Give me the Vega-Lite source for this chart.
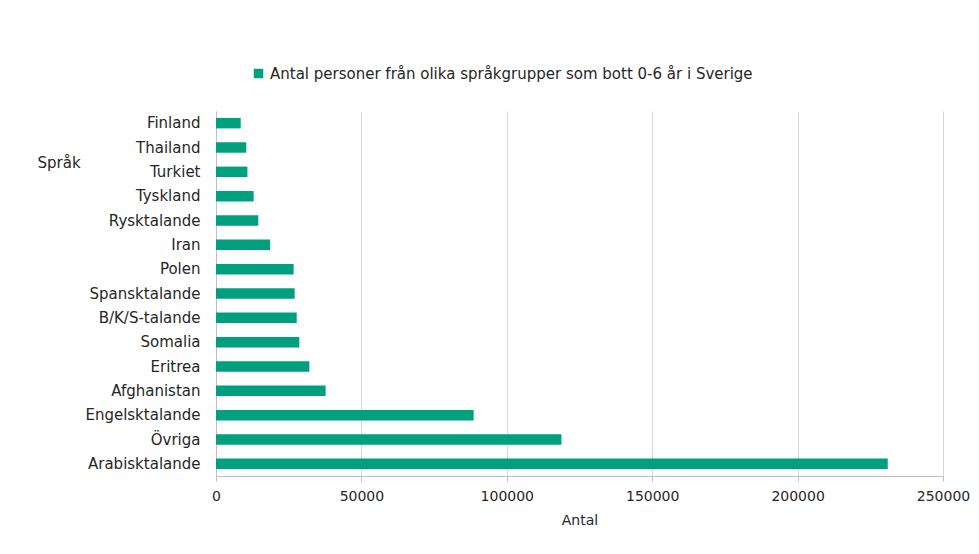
{
  "$schema": "https://vega.github.io/schema/vega-lite/v6.json",
  "width": 727,
  "height": 365,
  "autosize": {"type": "none"},
  "padding": {"left": 216, "top": 111, "right": 36, "bottom": 78},
  "background": "white",
  "data": {
    "values": [
      {"sprak": "Finland", "antal": 8500, "serie": "Antal personer från olika språkgrupper som bott 0-6 år i Sverige"},
      {"sprak": "Thailand", "antal": 10400, "serie": "Antal personer från olika språkgrupper som bott 0-6 år i Sverige"},
      {"sprak": "Turkiet", "antal": 10800, "serie": "Antal personer från olika språkgrupper som bott 0-6 år i Sverige"},
      {"sprak": "Tyskland", "antal": 12950, "serie": "Antal personer från olika språkgrupper som bott 0-6 år i Sverige"},
      {"sprak": "Rysktalande", "antal": 14550, "serie": "Antal personer från olika språkgrupper som bott 0-6 år i Sverige"},
      {"sprak": "Iran", "antal": 18600, "serie": "Antal personer från olika språkgrupper som bott 0-6 år i Sverige"},
      {"sprak": "Polen", "antal": 26700, "serie": "Antal personer från olika språkgrupper som bott 0-6 år i Sverige"},
      {"sprak": "Spansktalande", "antal": 27050, "serie": "Antal personer från olika språkgrupper som bott 0-6 år i Sverige"},
      {"sprak": "B/K/S-talande", "antal": 27750, "serie": "Antal personer från olika språkgrupper som bott 0-6 år i Sverige"},
      {"sprak": "Somalia", "antal": 28650, "serie": "Antal personer från olika språkgrupper som bott 0-6 år i Sverige"},
      {"sprak": "Eritrea", "antal": 32100, "serie": "Antal personer från olika språkgrupper som bott 0-6 år i Sverige"},
      {"sprak": "Afghanistan", "antal": 37700, "serie": "Antal personer från olika språkgrupper som bott 0-6 år i Sverige"},
      {"sprak": "Engelsktalande", "antal": 88600, "serie": "Antal personer från olika språkgrupper som bott 0-6 år i Sverige"},
      {"sprak": "Övriga", "antal": 118800, "serie": "Antal personer från olika språkgrupper som bott 0-6 år i Sverige"},
      {"sprak": "Arabisktalande", "antal": 231000, "serie": "Antal personer från olika språkgrupper som bott 0-6 år i Sverige"}
    ]
  },
  "mark": {"type": "bar", "color": "#00A07F"},
  "encoding": {
    "y": {
      "field": "sprak",
      "type": "nominal",
      "sort": null,
      "scale": {"paddingInner": 0.57, "paddingOuter": 0.285},
      "axis": {
        "title": "Språk",
        "titleAngle": 0,
        "titleAlign": "left",
        "titleBaseline": "middle",
        "titleX": -179,
        "titleY": 51,
        "titleFont": "DejaVu Sans",
        "titleFontSize": 15,
        "titleFontWeight": "normal",
        "titleColor": "#262626",
        "labelFont": "DejaVu Sans",
        "labelFontSize": 15,
        "labelColor": "#262626",
        "labelPadding": 16,
        "ticks": false,
        "domainColor": "#bfbfbf",
        "grid": false
      }
    },
    "x": {
      "field": "antal",
      "type": "quantitative",
      "scale": {"domain": [0, 250000], "nice": false},
      "axis": {
        "title": "Antal",
        "values": [0, 50000, 100000, 150000, 200000, 250000],
        "format": "d",
        "titleFont": "DejaVu Sans",
        "titleFontSize": 14,
        "titleFontWeight": "normal",
        "titleColor": "#262626",
        "titlePadding": 10,
        "labelFont": "DejaVu Sans",
        "labelFontSize": 14,
        "labelColor": "#262626",
        "labelPadding": 8,
        "tickSize": 5,
        "tickColor": "#bfbfbf",
        "domainColor": "#bfbfbf",
        "gridColor": "#d9d9d9",
        "labelFlush": false
      }
    },
    "fill": {
      "field": "serie",
      "type": "nominal",
      "scale": {"range": ["#00A07F"]},
      "legend": {
        "title": null,
        "orient": "none",
        "legendX": 35,
        "legendY": -45,
        "symbolType": "square",
        "symbolSize": 90,
        "labelFont": "DejaVu Sans",
        "labelFontSize": 15,
        "labelColor": "#262626",
        "labelLimit": 700
      }
    }
  },
  "config": {"view": {"stroke": null}}
}
